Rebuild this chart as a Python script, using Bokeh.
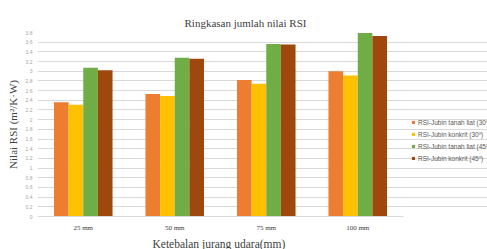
from bokeh.plotting import figure
from bokeh.models import ColumnDataSource, FixedTicker, Legend, LegendItem, Title
from bokeh.transform import dodge
from bokeh.embed import file_html
from bokeh.resources import INLINE

categories = ["25 mm", "50 mm", "75 mm", "100 mm"]
tanah_30 = [2.36, 2.53, 2.82, 3.00]
konkrit_30 = [2.31, 2.49, 2.74, 2.91]
tanah_45 = [3.07, 3.28, 3.56, 3.79]
konkrit_45 = [3.02, 3.26, 3.55, 3.73]
series_names = ["RSI-Jubin tanah liat (30º)", "RSI-Jubin konkrit (30º)",
                "RSI-Jubin tanah liat (45º)", "RSI-Jubin konkrit (45º)"]
y_ticks = [0, 0.2, 0.4, 0.6, 0.8, 1, 1.2, 1.4, 1.6, 1.8, 2, 2.2, 2.4, 2.6,
           2.8, 3, 3.2, 3.4, 3.6, 3.8]
y_tick_labels = ["0", "0.2", "0.4", "0.6", "0.8", "1", "1.2", "1.4", "1.6", "1.8",
                 "2", "2.2", "2.4", "2.6", "2.8", "3", "3.2", "3.4", "3.6", "3.8"]

colors = ["#ED7D31", "#FFC000", "#70AD47", "#9E480E"]
offsets = [-0.24, -0.08, 0.08, 0.24]

n = len(categories)
cat_pos = [i + 0.5 for i in range(n)]
src = ColumnDataSource(dict(pos=cat_pos, s0=tanah_30, s1=konkrit_30,
                            s2=tanah_45, s3=konkrit_45))

# numeric x range: 4 category slots plus empty room on the right for the legend
p = figure(x_range=(0, n * 450 / 366), y_range=(0, 3.8), output_backend="svg",
           toolbar_location=None, frame_width=450, frame_height=184,
           min_border_left=37, min_border_right=0, min_border_top=32,
           min_border_bottom=0)
p.outline_line_color = None
p.background_fill_color = "white"
p.border_fill_color = "white"

renderers = []
for i, key in enumerate(["s0", "s1", "s2", "s3"]):
    r = p.vbar(x=dodge("pos", offsets[i]), top=key, width=0.16,
               source=src, fill_color=colors[i], line_color=None)
    renderers.append(r)

# y axis
p.yaxis.ticker = FixedTicker(ticks=y_ticks)
p.yaxis.major_label_overrides = {t: l for t, l in zip(y_ticks, y_tick_labels)}
p.yaxis.axis_line_color = None
p.yaxis.major_tick_line_color = None
p.yaxis.minor_tick_line_color = None
p.yaxis.major_tick_out = 0
p.yaxis.major_tick_in = 0
p.yaxis.minor_tick_out = 0
p.yaxis.major_label_text_font_size = "5px"
p.yaxis.major_label_text_color = "#a6a6a6"
p.yaxis.major_label_text_font = "Liberation Sans"
p.yaxis.major_label_standoff = 5
p.yaxis.axis_label = "Nilai RSI (m²/K·W)"
p.yaxis.axis_label_text_font = "Liberation Serif"
p.yaxis.axis_label_text_font_style = "normal"
p.yaxis.axis_label_text_font_size = "11px"
p.yaxis.axis_label_text_color = "#404040"
p.yaxis.axis_label_standoff = 4

# x axis
p.xaxis.ticker = FixedTicker(ticks=cat_pos)
p.xaxis.major_label_overrides = {t: c for t, c in zip(cat_pos, categories)}
p.xaxis.bounds = (0, n)
p.xaxis.axis_line_color = "#d9d9d9"
p.xaxis.major_tick_line_color = None
p.xaxis.minor_tick_line_color = None
p.xaxis.major_tick_out = 0
p.xaxis.major_tick_in = 0
p.xaxis.minor_tick_out = 0
p.xaxis.major_label_text_font = "Liberation Serif"
p.xaxis.major_label_text_font_size = "7px"
p.xaxis.major_label_text_color = "#404040"
p.xaxis.major_label_standoff = 7

p.xgrid.grid_line_color = None
p.ygrid.grid_line_color = "#d9d9d9"
p.ygrid.grid_line_width = 1
p.ygrid.bounds = (0, n)

# x axis title, centred under the category area
xtitle = Title(text="Ketebalan jurang udara(mm)", align="left", offset=115,
               text_font="Liberation Serif", text_font_style="normal",
               text_font_size="11.5px", text_color="#404040", standoff=2)
p.add_layout(xtitle, "below")

# chart title
p.title.text = "Ringkasan jumlah nilai RSI"
p.title.align = "left"
p.title.offset = 147
p.title.text_font = "Liberation Serif"
p.title.text_font_style = "normal"
p.title.text_font_size = "11px"
p.title.text_color = "#404040"
p.title.standoff = 7

legend = Legend(items=[LegendItem(label=series_names[i], renderers=[renderers[i]])
                       for i in range(4)],
                location=(374, 54), orientation="vertical",
                glyph_width=4, glyph_height=4, label_height=8, spacing=4,
                padding=0, margin=0, label_standoff=3,
                label_text_font="Liberation Sans", label_text_font_size="6.5px",
                label_text_color="#595959", border_line_color=None,
                background_fill_alpha=0)
p.add_layout(legend)

open("out.html", "w").write(file_html(p, INLINE))
